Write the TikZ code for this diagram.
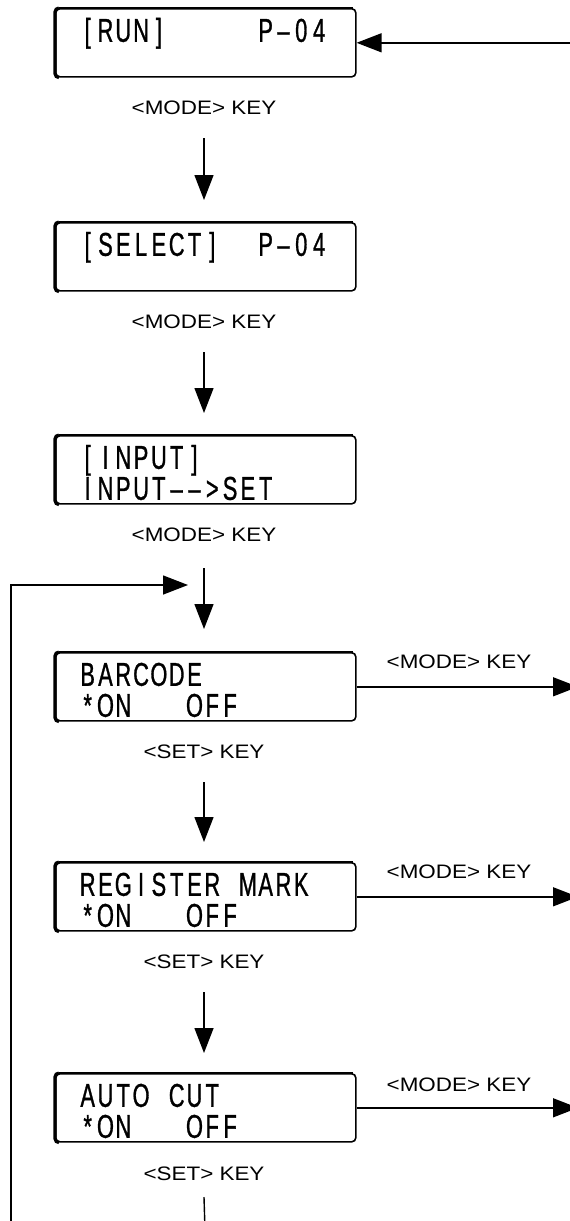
\documentclass[tikz,border=0pt]{standalone}
\usepackage{fontspec}
\setmainfont{Liberation Sans}
\usetikzlibrary{arrows.meta}

% narrow display face for the LCD screens, wide face for key labels
\newfontfamily\lcdfont[FakeStretch=0.66,FakeBold=0.9]{Liberation Sans}
\newfontfamily\keyfont[FakeStretch=1.15]{Liberation Sans}

% every display character sits in a cell of fixed pitch
\newlength\lcdpitch
\setlength\lcdpitch{17.8pt}
\def\lcdloop#1{\ifx\relax#1\else\makebox[\lcdpitch][c]{#1}\expandafter\lcdloop\fi}
\newcommand\lcdrow[1]{\lcdloop#1\relax}
\newcommand\lcdline[1]{\hbox to 300pt{\hskip 23pt\rule{0pt}{24pt}%
  \smash{\lcdfont\fontsize{33}{33}\selectfont\lcdrow{#1}}\hfil}}
\newcommand\lcdscreen[2]{\vbox to 68pt{\offinterlineskip
  \vskip 9pt\lcdline{#1}\vskip 7pt\lcdline{#2}\vfil}}

\tikzset{
  lcd/.style={draw, line width=1.6pt, rounded corners=4pt, inner sep=0pt,
    minimum width=300pt, minimum height=68pt, anchor=north west},
  lcdleft/.style={line width=3.2pt, rounded corners=4pt},
  lcdtop/.style={line width=2.2pt},
  keylabel/.style={inner sep=0pt, font=\keyfont\fontsize{19.5}{20}\selectfont},
  arr/.style={line width=1.4pt, -{Triangle[length=25pt,width=19pt]}},
  plain/.style={line width=1.4pt}
}

\begin{document}
\begin{tikzpicture}[x=1pt, y=-1pt]
\clip (0,0) rectangle (570,1221);
\fill[white] (0,0) rectangle (570,1221);

% display screens
\node[lcd] (b1) at (55,8)    {\lcdscreen{[RUN]~~~~~P–04}{}};
\node[lcd] (b2) at (55,222)  {\lcdscreen{[SELECT]~~P–04}{}};
\node[lcd] (b3) at (55,435)  {\lcdscreen{[INPUT]}{INPUT––>SET}};
\node[lcd] (b4) at (55,652)  {\lcdscreen{BARCODE}{*ON~~~OFF}};
\node[lcd] (b5) at (55,862)  {\lcdscreen{REGISTER~MARK}{*ON~~~OFF}};
\node[lcd] (b6) at (55,1073) {\lcdscreen{AUTO~CUT}{*ON~~~OFF}};

% heavier left and top edges of each screen frame
\foreach \b in {b1,b2,b3,b4,b5,b6}{
  \draw[lcdleft] ([xshift=4pt]\b.south west) -- (\b.south west)
                 -- (\b.north west) -- ([xshift=4pt]\b.north west);
  \draw[lcdtop] ([xshift=4pt]\b.north west) -- ([xshift=-4pt]\b.north east);
}

% key labels between the screens
\node[keylabel] (k1) at (204,108)  {<MODE> KEY};
\node[keylabel] (k2) at (204,322)  {<MODE> KEY};
\node[keylabel] (k3) at (204,535)  {<MODE> KEY};
\node[keylabel] (k4) at (204,752)  {<SET> KEY};
\node[keylabel] (k5) at (204,962)  {<SET> KEY};
\node[keylabel] (k6) at (204,1174) {<SET> KEY};

% key labels on the exits to the right
\node[keylabel] (m4) at (459,662)  {<MODE> KEY};
\node[keylabel] (m5) at (459,872)  {<MODE> KEY};
\node[keylabel] (m6) at (459,1085) {<MODE> KEY};

% free ends beyond the page
\coordinate (rightedge) at (578,0);
\coordinate (down) at (205,1230);
\coordinate (loopfoot) at (11,1230);
\coordinate (looptip) at (188,585);

% main downward flow
\draw[arr] ([yshift=-30pt]k1.center) -- ([yshift=22pt]b2.north -| k1.center);
\draw[arr] ([yshift=-30pt]k2.center) -- ([yshift=22pt]b3.north -| k2.center);
\draw[arr] ([yshift=-33pt]k3.center) -- ([yshift=23pt]b4.north -| k3.center);
\draw[arr] ([yshift=-30pt]k4.center) -- ([yshift=20pt]b5.north -| k4.center);
\draw[arr] ([yshift=-30pt]k5.center) -- ([yshift=20pt]b6.north -| k5.center);
\draw[plain] ([yshift=-23pt]k6.center) -- (down);

% return into the first screen
\draw[arr] (rightedge |- b1.east) -- (b1.east);

% exits to the right
\draw[arr] (b4.east) -- (rightedge |- b4.east);
\draw[arr] (b5.east) -- (rightedge |- b5.east);
\draw[arr] (b6.east) -- (rightedge |- b6.east);

% loop back above the BARCODE screen
\draw[arr] (loopfoot) |- (looptip);
\end{tikzpicture}
\end{document}
